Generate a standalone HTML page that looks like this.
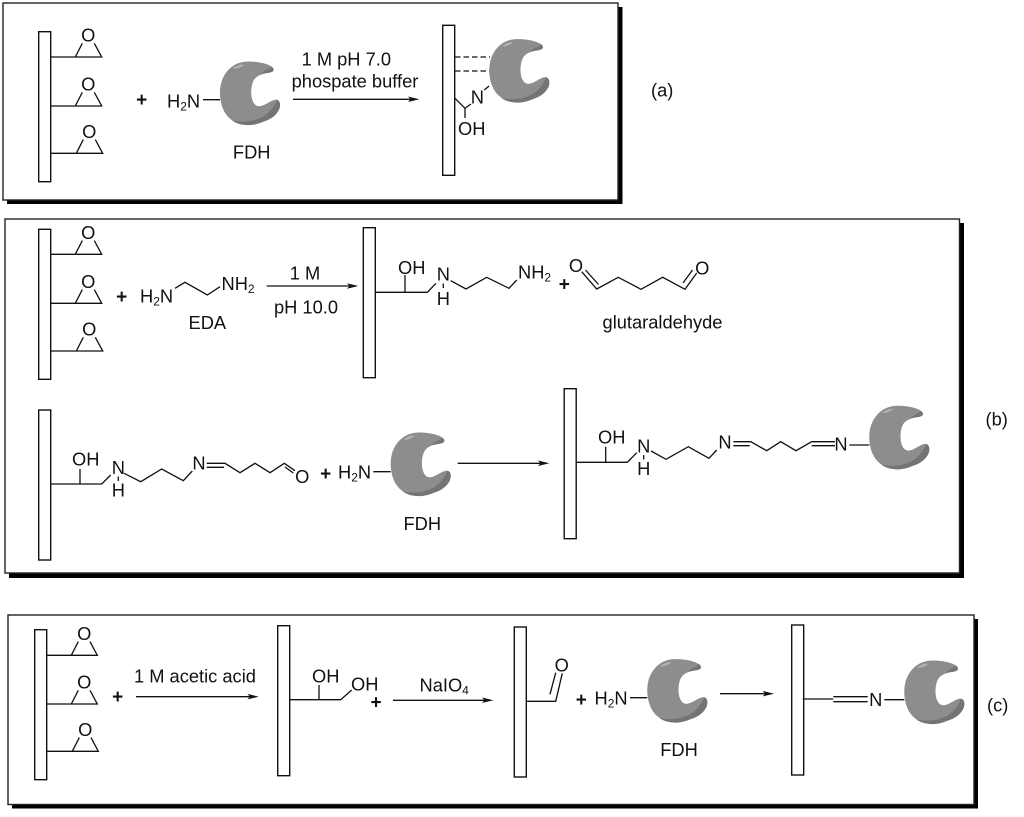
<!DOCTYPE html>
<html>
<head>
<meta charset="utf-8">
<style>
html,body{margin:0;padding:0;background:#fff;}
svg{display:block;}
text{font-family:"Liberation Sans",sans-serif;font-size:18.3px;fill:#111;}
.m{text-anchor:middle;}
.p{font-weight:bold;font-size:19px;text-anchor:middle;fill:#111;}
.l{fill:none;stroke:#111;stroke-width:1.3;}
.b{fill:#fff;stroke:#111;stroke-width:1.4;}
.f{fill:#fff;stroke:#222;stroke-width:1.4;}
.a{fill:#111;}
</style>
</head>
<body>
<svg width="1024" height="817" viewBox="0 0 1024 817" xmlns="http://www.w3.org/2000/svg">
<defs>
<g id="enz">
<path d="M25 0C36-1 48 2 52 5C55 8 54 10 49 11C42 12 36 14 33.500 19C30.500 25 30.500 35 33 40C35 44 38 45.500 42 44C48 42 53 37 57 38C60 39 61 43 59 48C56 54 50 58 43 60C36 63 30 64 24 63C14 62 6 55 3 47C0 40-1 30 1 22C4 10 13 1 25 0Z" fill="#8d8d8d"/>
<path d="M57 38C60 39 61 43 59 48C56 54 50 58 43 60C36 63 30 64 24 63C19 62.500 15 61 12 58.500C19 60.500 28 60.500 37 57.500C45 55 52 49 57 38Z" fill="#747474"/>
<path d="M52 5C55 8 54 10 49 11C46 11.500 43 11.700 41 12.200C43 9.500 48 8 52 5Z" fill="#757575"/>
<path d="M13 7C16 4 21 2.500 24 3C22 5 17 7.500 13 7Z" fill="#b4b4b4"/>
</g>
</defs>

<!-- panels -->
<rect x="7" y="7" width="615.500" height="197" fill="#000"/>
<rect x="3" y="3" width="615" height="197" class="f"/>
<rect x="9" y="223" width="955" height="355" fill="#000"/>
<rect x="5" y="219" width="954.500" height="354" class="f"/>
<rect x="12" y="619" width="966" height="189.500" fill="#000"/>
<rect x="8" y="615" width="966" height="189.500" class="f"/>

<!-- Panel a -->
<rect x="38.700" y="31.700" width="12" height="150" class="b"/>
<path class="l" d="M50 57H101.700L94.300 43.300M75.300 57L82.300 43.300"/><text class="m" x="88.300" y="41.500">O</text>
<path class="l" d="M50 106H101.700L94.300 92.300M75.300 106L82.300 92.300"/><text class="m" x="88.300" y="90.500">O</text>
<path class="l" d="M50.700 153.300H102.700L95.300 139.600M76.300 153.300L83.300 139.600"/><text class="m" x="89.300" y="137.800">O</text>
<text class="p" x="141.700" y="105.800">+</text>
<text x="167" y="107.300">H<tspan font-size="12" dy="3">2</tspan><tspan dy="-3">N</tspan></text>
<path class="l" d="M203 99.700H220"/>
<use href="#enz" x="220" y="61.700"/>
<text class="m" x="251.700" y="158.700">FDH</text>
<text class="m" x="346.300" y="65.700">1 M pH 7.0</text>
<text class="m" x="355" y="87.300">phospate buffer</text>
<path class="l" d="M293 99.300H411"/><path class="a" d="M419.300 99.300L408 96.500L410.500 99.300L408 102Z"/>
<rect x="442.700" y="25.300" width="12" height="150" class="b"/>
<path class="l" stroke-dasharray="5.500 3" d="M455 57H490M455 71H490"/>
<use href="#enz" x="489.300" y="39.300"/>
<path class="l" d="M455 98.300L465 108.300L471 104M465 108.300V118M484.300 90L489 86"/>
<text class="m" x="477.300" y="103.500">N</text>
<text x="458" y="135">OH</text>
<text x="651" y="96.700">(a)</text>

<!-- Panel b top -->
<rect x="38.700" y="229.300" width="12" height="150" class="b"/>
<path class="l" d="M50 254.300H101.700L94.300 240.600M75.300 254.300L82.300 240.600"/><text class="m" x="88.300" y="238.800">O</text>
<path class="l" d="M50 303.300H101.700L94.300 289.600M75.300 303.300L82.300 289.600"/><text class="m" x="88.300" y="287.800">O</text>
<path class="l" d="M50.700 351H102.700L95.300 337.300M76.300 351L83.300 337.300"/><text class="m" x="89.300" y="335.500">O</text>
<text class="p" x="121.700" y="303">+</text>
<text x="140" y="302.300">H<tspan font-size="12" dy="3">2</tspan><tspan dy="-3">N</tspan></text>
<path class="l" d="M175 288.300L185 282.300L207.300 295L220 286.700"/>
<text x="221.500" y="290">NH<tspan font-size="12" dy="3">2</tspan></text>
<text class="m" x="207.300" y="329">EDA</text>
<text class="m" x="305" y="279.300">1 M</text>
<text class="m" x="306" y="313.300">pH 10.0</text>
<path class="l" d="M266.700 286H350"/><path class="a" d="M358.300 286L347 283.200L349.500 286L347 288.700Z"/>
<rect x="363.300" y="227.700" width="12" height="150" class="b"/>
<path class="l" d="M375 292.300H427.300L436 283.300M405 292.300V275M450.700 280.700L466 289L486.700 277.300L509 288.300L516.700 280M443.300 283.500V288"/>
<text x="398" y="274">OH</text>
<text class="m" x="443.300" y="280.700">N</text>
<text class="m" x="443.300" y="305">H</text>
<text x="518" y="278.300">NH<tspan font-size="12" dy="3">2</tspan></text>
<text class="p" x="564.300" y="290.500">+</text>
<text class="m" x="576" y="272">O</text>
<text class="m" x="702.300" y="274.600">O</text>
<path class="l" d="M581.700 271.700L596.700 289L618.300 277.300L641 289.300L662.700 277.300L685 289.300L696.700 273M585.500 270L598.500 284.500M683 283L692.500 270"/>
<text class="m" x="662.500" y="328.300">glutaraldehyde</text>

<!-- Panel b bottom -->
<rect x="38.700" y="410" width="12" height="150" class="b"/>
<path class="l" d="M50 484H101.700L110.700 475M80 484V469M124 473.300L140.700 481.700L161.700 469L183.300 480.700L192.300 471M206.700 463.300H225L240 472.700L255 463.300L270 472.700L284.300 463.300L295 470.700M206.700 467.300H224M285 467L293.300 473M118.300 476.500V481"/>
<text x="72" y="465.700">OH</text>
<text class="m" x="118.300" y="474">N</text>
<text class="m" x="118.300" y="496.700">H</text>
<text class="m" x="199" y="469.700">N</text>
<text class="m" x="302.300" y="483">O</text>
<text class="p" x="325.700" y="479.800">+</text>
<text x="338" y="478.300">H<tspan font-size="12" dy="3">2</tspan><tspan dy="-3">N</tspan></text>
<path class="l" d="M373.300 471.700H390.700"/>
<use href="#enz" x="390.700" y="432.700"/>
<text class="m" x="422.300" y="530">FDH</text>
<path class="l" d="M457.700 463.300H541"/><path class="a" d="M549.300 463.300L538 460.500L540.500 463.300L538 466Z"/>
<rect x="564.200" y="388.700" width="12" height="150" class="b"/>
<path class="l" d="M576 462.300H627.300L636.700 452.700M605.700 462.300V446.700M651 451L666 459.300L688.300 446.700L709 458.300L716.700 450M733.300 441.700H750.700L766.700 450.700L780.700 441.700L796 450.700L811.700 441.700H835M733.300 445.700H749.700M811.700 445.700H835M849.300 445H869.300M643.700 455V459.500"/>
<text x="598" y="443.300">OH</text>
<text class="m" x="643.700" y="452.300">N</text>
<text class="m" x="643.700" y="475">H</text>
<text class="m" x="725" y="448.300">N</text>
<text class="m" x="841" y="450.700">N</text>
<use href="#enz" x="869.300" y="406"/>
<text x="985.500" y="425.700">(b)</text>

<!-- Panel c -->
<rect x="34.700" y="629.700" width="12" height="150" class="b"/>
<path class="l" d="M46 655.300H97.300L90 641.600M71.300 655.300L78.300 641.600"/><text class="m" x="84.300" y="639.800">O</text>
<path class="l" d="M46 704H97.300L90 690.300M71.300 704L78.300 690.300"/><text class="m" x="84.300" y="688.500">O</text>
<path class="l" d="M46.700 751.300H98.300L91 737.600M72.300 751.300L79.300 737.600"/><text class="m" x="85.300" y="735.800">O</text>
<text class="p" x="117.700" y="703">+</text>
<text x="134" y="682.300">1 M acetic acid</text>
<path class="l" d="M136 696.700H250"/><path class="a" d="M258.700 696.700L247.400 693.900L249.900 696.700L247.400 699.400Z"/>
<rect x="277.700" y="625.700" width="12" height="150" class="b"/>
<path class="l" d="M289.700 699.700H340.700L351.700 690M319 699.700V685"/>
<text x="312" y="682.300">OH</text>
<text x="351" y="690.700">OH</text>
<text class="p" x="376" y="708.300">+</text>
<text x="419.500" y="691.700">NaIO<tspan font-size="12" dy="3">4</tspan></text>
<path class="l" d="M393 700.300H485"/><path class="a" d="M493.300 700.300L482 697.500L484.500 700.300L482 703Z"/>
<rect x="514.300" y="627" width="12" height="150" class="b"/>
<path class="l" d="M526.300 701.300H555.700L562.300 673.300M550 694.300L555.700 672.700"/>
<text class="m" x="561.700" y="671.500">O</text>
<text class="p" x="581.300" y="706">+</text>
<text x="594.500" y="704.300">H<tspan font-size="12" dy="3">2</tspan><tspan dy="-3">N</tspan></text>
<path class="l" d="M630 697.700H647.300"/>
<use href="#enz" x="647.300" y="659.300"/>
<text class="m" x="679" y="756">FDH</text>
<path class="l" d="M720 693.700H766"/><path class="a" d="M774 693.700L762.700 690.900L765.200 693.700L762.700 696.400Z"/>
<rect x="791.700" y="625" width="12" height="150" class="b"/>
<path class="l" d="M802.700 699H833.300M833.300 696.700H867.700M833.300 701.700H867.700M884.300 699.700H904.300"/>
<text class="m" x="875.700" y="706">N</text>
<use href="#enz" x="904.300" y="660.700"/>
<text x="987" y="711.700">(c)</text>
</svg>
</body>
</html>
